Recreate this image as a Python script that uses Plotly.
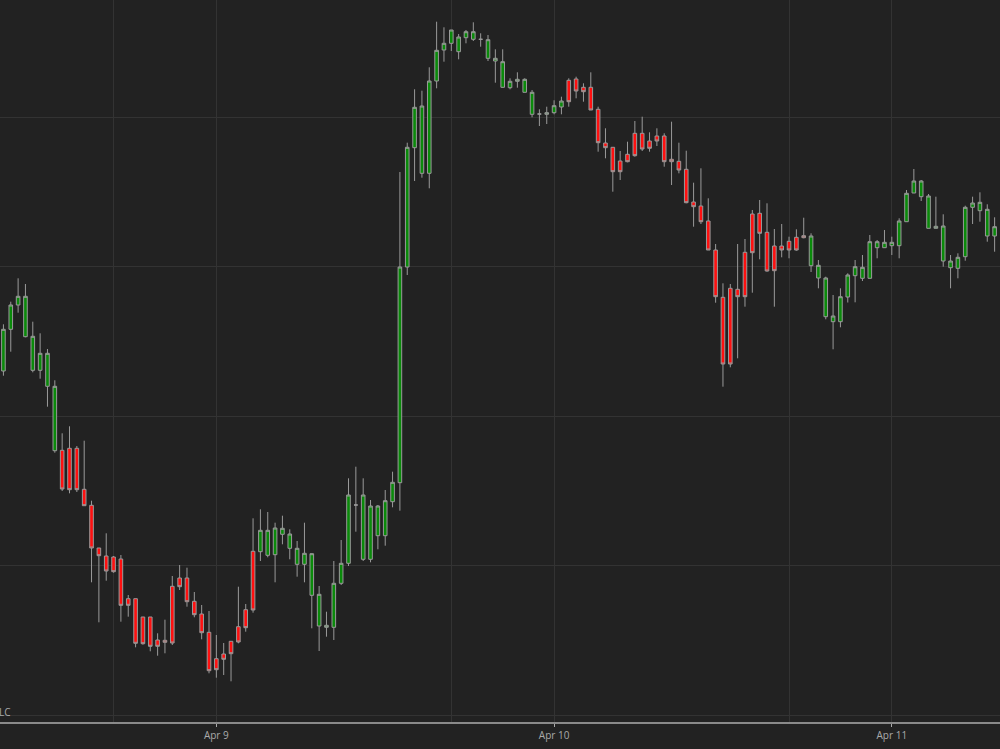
import pandas as pd
import plotly.graph_objects as go

# 30-minute bars, daily session break 16:00-17:00
bar_start = "2024-04-08 08:30"
bar_end = "2024-04-11 07:00"
times = pd.date_range(bar_start, bar_end, freq="30min")
times = times[times.hour != 16]

open_ = [
    2362.90, 2367.07, 2369.50, 2366.33, 2362.97, 2362.97, 2361.37, 2354.93,
    2354.97, 2355.17, 2355.17, 2351.07, 2349.47, 2345.20, 2344.40, 2344.30,
    2344.10, 2340.13, 2340.13, 2338.30, 2338.30, 2336.00, 2335.97, 2341.37,
    2342.20, 2342.20, 2339.87, 2338.60, 2336.77, 2334.13, 2334.60, 2335.87,
    2337.33, 2339.03, 2344.87, 2344.83, 2344.47, 2344.53, 2346.57, 2345.17,
    2343.57, 2343.57, 2340.47, 2337.40, 2337.27, 2337.27, 2341.67, 2343.67,
    2349.50, 2344.07, 2344.07, 2346.43, 2346.43, 2349.83, 2351.73, 2373.30,
    2385.23, 2382.67, 2382.67, 2391.90, 2395.00, 2395.67, 2394.83, 2396.23,
    2396.07, 2396.07, 2394.17, 2393.90, 2391.27, 2391.23, 2391.87, 2390.77,
    2388.57, 2388.60, 2388.57, 2388.73, 2389.30, 2391.97, 2392.10, 2391.27,
    2391.27, 2389.07, 2385.70, 2385.27, 2383.90, 2384.57, 2386.67, 2386.67,
    2385.90, 2386.40, 2386.40, 2384.07, 2383.87, 2383.07, 2379.80, 2379.40,
    2377.90, 2375.00, 2370.27, 2371.17, 2371.07, 2374.77, 2378.60, 2378.67,
    2376.77, 2375.40, 2375.40, 2375.87, 2376.27, 2376.43, 2373.43, 2372.20,
    2368.33, 2367.83, 2367.83, 2370.30, 2372.43, 2372.17, 2372.17, 2375.23,
    2375.23, 2375.43, 2375.43, 2377.83, 2380.70, 2380.33, 2377.17, 2377.17,
    2373.90, 2373.23, 2373.17, 2374.33, 2379.27, 2378.93, 2376.40, 2376.40,
]
high = [
    2367.57, 2369.83, 2372.17, 2371.60, 2367.83, 2366.67, 2365.10, 2361.97,
    2356.67, 2357.37, 2355.40, 2355.93, 2349.93, 2345.20, 2346.67, 2344.40,
    2344.50, 2340.50, 2340.13, 2338.30, 2338.30, 2336.67, 2338.03, 2342.40,
    2343.50, 2343.23, 2340.80, 2339.50, 2338.90, 2336.50, 2335.70, 2335.87,
    2341.33, 2339.60, 2348.17, 2349.07, 2348.80, 2347.73, 2348.43, 2347.07,
    2345.90, 2347.73, 2344.67, 2341.40, 2338.83, 2343.90, 2346.00, 2352.17,
    2353.33, 2352.17, 2350.00, 2349.50, 2351.00, 2352.83, 2382.80, 2385.73,
    2391.07, 2390.93, 2393.27, 2397.83, 2397.27, 2397.00, 2396.60, 2397.00,
    2397.77, 2396.67, 2396.50, 2395.07, 2395.07, 2392.17, 2392.77, 2392.17,
    2391.00, 2389.07, 2389.33, 2389.97, 2390.33, 2392.17, 2392.33, 2391.67,
    2392.77, 2389.33, 2387.17, 2385.27, 2384.90, 2385.83, 2387.90, 2388.33,
    2386.77, 2387.17, 2386.67, 2387.83, 2385.73, 2384.93, 2381.73, 2383.17,
    2380.17, 2375.60, 2371.67, 2371.60, 2375.60, 2376.10, 2379.00, 2380.00,
    2379.67, 2377.10, 2377.60, 2376.33, 2377.07, 2378.23, 2376.67, 2374.00,
    2372.33, 2370.50, 2371.17, 2372.67, 2374.00, 2374.50, 2376.50, 2376.00,
    2377.00, 2376.33, 2378.17, 2381.00, 2383.10, 2382.00, 2380.60, 2380.33,
    2378.57, 2374.50, 2374.67, 2379.43, 2380.33, 2380.77, 2379.57, 2378.27,
]
low = [
    2362.43, 2364.83, 2368.73, 2366.27, 2362.77, 2362.13, 2359.33, 2354.73,
    2350.90, 2350.67, 2350.80, 2349.43, 2341.77, 2337.77, 2341.93, 2342.73,
    2337.83, 2338.33, 2335.27, 2335.53, 2334.87, 2334.43, 2334.67, 2335.50,
    2341.00, 2339.33, 2338.27, 2336.07, 2332.67, 2332.23, 2332.50, 2331.87,
    2335.67, 2336.83, 2338.73, 2343.90, 2344.27, 2341.77, 2345.57, 2344.07,
    2342.33, 2341.77, 2337.17, 2334.90, 2336.33, 2336.00, 2341.50, 2343.40,
    2346.83, 2343.90, 2343.77, 2345.07, 2345.43, 2349.27, 2348.93, 2372.50,
    2381.90, 2382.23, 2381.17, 2391.17, 2393.83, 2394.90, 2394.07, 2395.67,
    2395.90, 2395.33, 2393.90, 2391.73, 2391.23, 2391.07, 2391.23, 2390.77,
    2388.27, 2387.40, 2387.60, 2388.57, 2388.57, 2389.33, 2390.17, 2389.83,
    2389.00, 2384.83, 2384.17, 2380.83, 2382.00, 2383.77, 2384.33, 2384.90,
    2384.83, 2385.40, 2383.33, 2381.50, 2382.67, 2379.67, 2377.33, 2377.60,
    2375.00, 2369.73, 2361.33, 2363.27, 2364.17, 2369.33, 2370.73, 2374.07,
    2372.83, 2369.33, 2374.27, 2374.17, 2374.93, 2376.17, 2372.80, 2371.17,
    2368.07, 2365.07, 2367.27, 2369.75, 2369.77, 2371.90, 2372.17, 2374.17,
    2375.23, 2374.50, 2374.17, 2377.83, 2380.70, 2379.90, 2377.17, 2377.17,
    2373.33, 2371.17, 2372.17, 2373.93, 2377.60, 2377.83, 2375.83, 2374.83,
]
close = [
    2367.07, 2369.50, 2370.37, 2370.37, 2366.37, 2364.67, 2364.67, 2361.37,
    2351.10, 2351.03, 2351.03, 2349.43, 2345.20, 2344.43, 2342.90, 2342.83,
    2339.47, 2339.47, 2335.67, 2335.63, 2335.37, 2335.37, 2335.77, 2335.70,
    2341.33, 2339.83, 2338.53, 2336.73, 2332.93, 2333.03, 2334.07, 2334.63,
    2335.80, 2337.23, 2339.00, 2346.97, 2346.97, 2347.20, 2347.17, 2346.60,
    2345.17, 2344.67, 2344.63, 2340.57, 2337.47, 2341.67, 2343.67, 2350.50,
    2349.50, 2350.50, 2349.40, 2349.40, 2349.93, 2351.77, 2373.30, 2385.27,
    2389.27, 2389.40, 2391.90, 2394.97, 2395.67, 2397.00, 2396.30, 2396.83,
    2396.83, 2396.07, 2396.03, 2394.17, 2393.83, 2391.87, 2392.07, 2392.07,
    2390.77, 2388.60, 2388.73, 2389.43, 2389.90, 2389.83, 2390.90, 2390.83,
    2389.00, 2385.73, 2385.23, 2382.83, 2382.83, 2383.83, 2384.43, 2385.10,
    2385.17, 2385.90, 2383.83, 2383.83, 2383.00, 2379.73, 2379.33, 2377.83,
    2375.00, 2370.33, 2363.60, 2363.60, 2370.33, 2370.33, 2374.73, 2376.67,
    2372.90, 2372.93, 2375.00, 2375.00, 2375.00, 2376.23, 2376.40, 2373.47,
    2372.20, 2368.40, 2370.33, 2372.50, 2373.33, 2373.27, 2375.83, 2375.83,
    2375.77, 2375.77, 2377.90, 2380.67, 2381.90, 2381.90, 2380.40, 2377.37,
    2377.40, 2373.90, 2374.27, 2379.27, 2379.70, 2379.77, 2379.07, 2377.33,
]

tick_vals = ["2024-04-09", "2024-04-10", "2024-04-11"]
tick_text = ["Apr 9", "Apr 10", "Apr 11"]
session_grid = ["2024-04-08 17:00", "2024-04-09 17:00", "2024-04-10 17:00"]

BG = "#222222"
GRID = "#333333"
TXT = "#aaaaaa"

fig = go.Figure(
    go.Candlestick(
        x=times, open=open_, high=high, low=low, close=close,
        increasing=dict(fillcolor="#0a8a0a", line=dict(color="#9a9a9a", width=1)),
        decreasing=dict(fillcolor="#ff1010", line=dict(color="#9a9a9a", width=1)),
        whiskerwidth=0,
        showlegend=False,
    )
)

fig.add_annotation(
    text="LC", xref="paper", yref="paper", x=0, y=0.0145,
    xanchor="left", yanchor="middle", xshift=-3, showarrow=False,
    font=dict(family="Open Sans, sans-serif", size=10, color=TXT),
)

fig.update_layout(
    width=1000, height=749,
    margin=dict(l=0, r=0, t=0, b=27, pad=0),
    paper_bgcolor=BG, plot_bgcolor=BG,
    boxgap=0.3,
    showlegend=False,
    font=dict(family="Open Sans, sans-serif", color=TXT),
    xaxis=dict(
        type="date",
        range=["2024-04-08 08:16", "2024-04-11 07:22"],
        rangebreaks=[dict(bounds=[16, 17], pattern="hour")],
        rangeslider=dict(visible=False),
        tickmode="array", tickvals=tick_vals, ticktext=tick_text,
        ticks="outside", ticklen=3, tickcolor=TXT, tickwidth=1,
        tickfont=dict(size=10, color=TXT),
        showgrid=True, gridcolor=GRID, gridwidth=1,
        minor=dict(tickmode="array", tickvals=session_grid, showgrid=True,
                   gridcolor=GRID, gridwidth=1, ticks=""),
        showline=True, linecolor="#8a8a8a", linewidth=2,
        zeroline=False,
    ),
    yaxis=dict(
        range=[2327.8, 2400.0],
        showticklabels=False,
        tick0=2328.5, dtick=14.94,
        showgrid=True, gridcolor=GRID, gridwidth=1,
        zeroline=False, showline=False, ticks="",
    ),
)

fig.write_html("out.html")
